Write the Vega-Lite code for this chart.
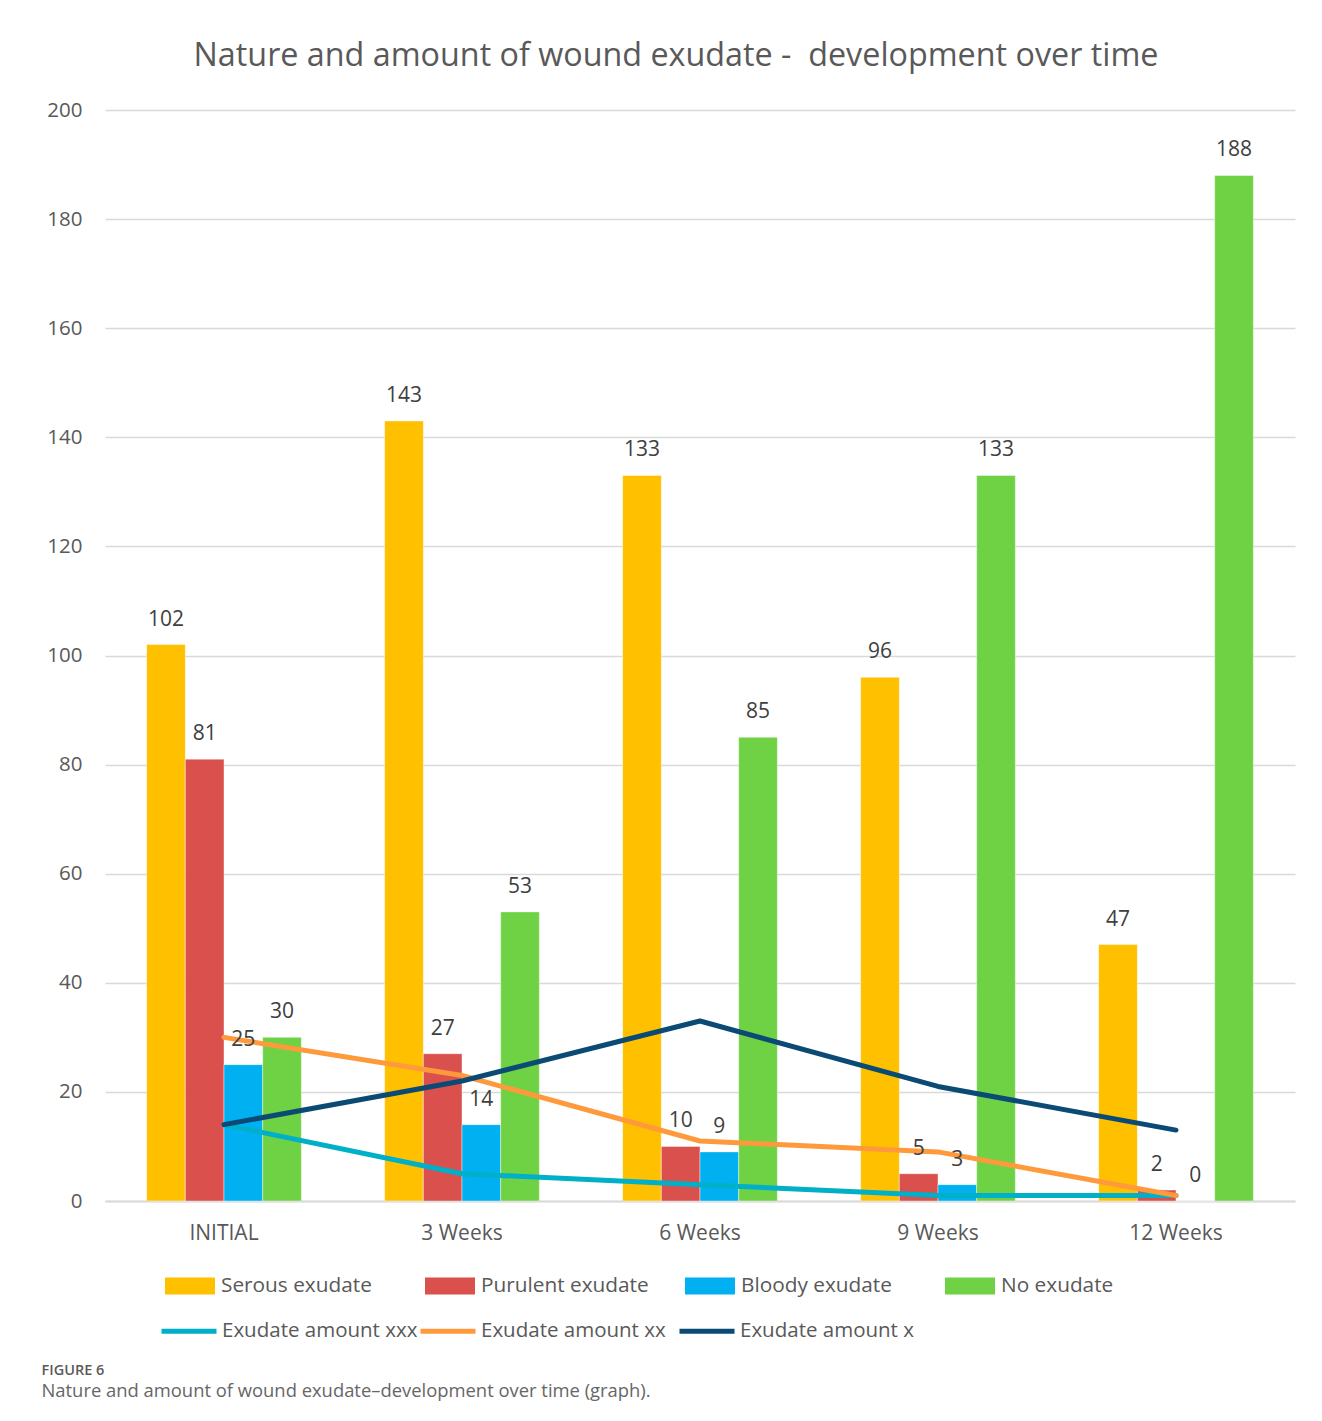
{
  "$schema": "https://vega.github.io/schema/vega-lite/v6.json",
  "width": 1190,
  "height": 1091,
  "autosize": {"type": "none"},
  "padding": {"left": 105, "top": 110, "right": 27, "bottom": 220},
  "background": "white",
  "title": {
    "text": "Nature and amount of wound exudate -\u00a0 development over time",
    "font": "Open Sans",
    "fontSize": 32.3,
    "fontWeight": "normal",
    "color": "#595959",
    "anchor": "middle",
    "dx": -24,
    "offset": 28
  },
  "config": {
    "view": {"stroke": null},
    "font": "Open Sans",
    "axis": {
      "labelFont": "Open Sans",
      "labelColor": "#595959",
      "labelFontSize": 21,
      "ticks": false,
      "domain": false,
      "gridColor": "#d9d9d9",
      "gridWidth": 1.5
    },
    "axisY": {"grid": true, "labelPadding": 23, "labelFontSize": 20.5},
    "axisX": {"grid": false, "domain": true, "domainColor": "#d9d9d9", "domainWidth": 2, "labelPadding": 21}
  },
  "datasets": {
    "bars": [
      {"time": "INITIAL", "series": "Serous exudate", "value": 102},
      {"time": "INITIAL", "series": "Purulent exudate", "value": 81},
      {"time": "INITIAL", "series": "Bloody exudate", "value": 25},
      {"time": "INITIAL", "series": "No exudate", "value": 30},
      {"time": "3 Weeks", "series": "Serous exudate", "value": 143},
      {"time": "3 Weeks", "series": "Purulent exudate", "value": 27},
      {"time": "3 Weeks", "series": "Bloody exudate", "value": 14},
      {"time": "3 Weeks", "series": "No exudate", "value": 53},
      {"time": "6 Weeks", "series": "Serous exudate", "value": 133},
      {"time": "6 Weeks", "series": "Purulent exudate", "value": 10},
      {"time": "6 Weeks", "series": "Bloody exudate", "value": 9},
      {"time": "6 Weeks", "series": "No exudate", "value": 85},
      {"time": "9 Weeks", "series": "Serous exudate", "value": 96},
      {"time": "9 Weeks", "series": "Purulent exudate", "value": 5},
      {"time": "9 Weeks", "series": "Bloody exudate", "value": 3},
      {"time": "9 Weeks", "series": "No exudate", "value": 133},
      {"time": "12 Weeks", "series": "Serous exudate", "value": 47},
      {"time": "12 Weeks", "series": "Purulent exudate", "value": 2},
      {"time": "12 Weeks", "series": "Bloody exudate", "value": 0},
      {"time": "12 Weeks", "series": "No exudate", "value": 188}
    ],
    "lines": [
      {"time": "INITIAL", "series": "Exudate amount xxx", "value": 14},
      {"time": "3 Weeks", "series": "Exudate amount xxx", "value": 5},
      {"time": "6 Weeks", "series": "Exudate amount xxx", "value": 3},
      {"time": "9 Weeks", "series": "Exudate amount xxx", "value": 1},
      {"time": "12 Weeks", "series": "Exudate amount xxx", "value": 1},
      {"time": "INITIAL", "series": "Exudate amount xx", "value": 30},
      {"time": "3 Weeks", "series": "Exudate amount xx", "value": 23},
      {"time": "6 Weeks", "series": "Exudate amount xx", "value": 11},
      {"time": "9 Weeks", "series": "Exudate amount xx", "value": 9},
      {"time": "12 Weeks", "series": "Exudate amount xx", "value": 1},
      {"time": "INITIAL", "series": "Exudate amount x", "value": 14},
      {"time": "3 Weeks", "series": "Exudate amount x", "value": 22},
      {"time": "6 Weeks", "series": "Exudate amount x", "value": 33},
      {"time": "9 Weeks", "series": "Exudate amount x", "value": 21},
      {"time": "12 Weeks", "series": "Exudate amount x", "value": 13}
    ]
  },
  "encoding": {
    "x": {
      "field": "time",
      "type": "nominal",
      "scale": {"domain": ["INITIAL", "3 Weeks", "6 Weeks", "9 Weeks", "12 Weeks"], "paddingInner": 0.35, "paddingOuter": 0.175},
      "axis": {
        "labelAngle": 0,
        "title": "Nature and amount of wound exudate\u2013development over time (graph).",
        "titleFont": "Open Sans",
        "titleFontSize": 18.4,
        "titleFontWeight": "normal",
        "titleColor": "#666666",
        "titleX": -64,
        "titleY": 189,
        "titleAlign": "left",
        "titleAnchor": "start",
        "titleBaseline": "middle"
      }
    },
    "y": {
      "field": "value",
      "type": "quantitative",
      "scale": {"domain": [0, 200]},
      "axis": {
        "values": [0, 20, 40, 60, 80, 100, 120, 140, 160, 180, 200],
        "title": "FIGURE 6",
        "titleFont": "Open Sans",
        "titleFontSize": 14.5,
        "titleFontWeight": 600,
        "titleColor": "#5a5a5a",
        "titleAngle": 0,
        "titleX": -64,
        "titleY": 1260,
        "titleAlign": "left",
        "titleAnchor": "start",
        "titleBaseline": "middle"
      }
    }
  },
  "layer": [
    {
      "data": {"name": "bars"},
      "mark": {"type": "bar", "stroke": "white", "strokeWidth": 0.6, "strokeOpacity": 0.7},
      "encoding": {
        "xOffset": {
          "field": "series",
          "type": "nominal",
          "scale": {"domain": ["Serous exudate", "Purulent exudate", "Bloody exudate", "No exudate"], "paddingInner": 0, "paddingOuter": 0}
        },
        "fill": {
          "field": "series",
          "type": "nominal",
          "scale": {
            "domain": ["Serous exudate", "Purulent exudate", "Bloody exudate", "No exudate"],
            "range": ["#FFC000", "#DA504C", "#00B0F0", "#6FD244"]
          },
          "legend": {
            "orient": "none",
            "legendX": 60,
            "legendY": 1151,
            "direction": "horizontal",
            "columns": 4,
            "gridAlign": "all",
            "title": null,
            "symbolType": "M-1,-0.34H1V0.34H-1Z",
            "symbolSize": 2500,
            "symbolStrokeWidth": 0,
            "symbolOpacity": 1,
            "labelFont": "Open Sans",
            "labelFontSize": 20.8,
            "labelLimit": 400,
            "labelColor": "#595959",
            "labelOffset": 6,
            "columnPadding": 36,
            "padding": 0
          }
        }
      }
    },
    {
      "data": {"name": "lines"},
      "mark": {"type": "line", "strokeWidth": 5, "strokeJoin": "round", "strokeCap": "round"},
      "encoding": {
        "stroke": {
          "field": "series",
          "type": "nominal",
          "scale": {
            "domain": ["Exudate amount xxx", "Exudate amount xx", "Exudate amount x"],
            "range": ["#00AFC8", "#FF9A3C", "#0B4A74"]
          },
          "legend": {
            "orient": "none",
            "legendX": 54,
            "legendY": 1191,
            "direction": "horizontal",
            "columns": 3,
            "gridAlign": "all",
            "title": null,
            "symbolType": "stroke",
            "symbolSize": 3025,
            "symbolStrokeWidth": 5,
            "labelFont": "Open Sans",
            "labelFontSize": 20.5,
            "labelLimit": 400,
            "labelColor": "#595959",
            "labelOffset": 3,
            "columnPadding": -8,
            "padding": 0
          }
        }
      }
    },
    {
      "data": {"name": "bars"},
      "mark": {"type": "text", "dy": -25, "fontSize": 21, "font": "Open Sans", "color": "#404040", "baseline": "middle"},
      "encoding": {
        "xOffset": {"field": "series", "type": "nominal"},
        "text": {"field": "value", "type": "quantitative"}
      }
    }
  ]
}
